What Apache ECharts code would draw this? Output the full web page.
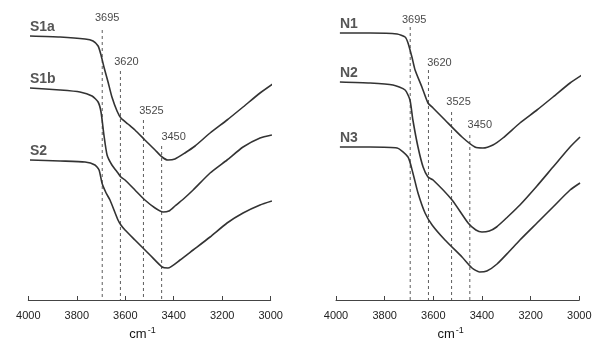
<!DOCTYPE html>
<html>
<head>
<meta charset="utf-8">
<script src="https://cdn.jsdelivr.net/npm/echarts@6/dist/echarts.min.js"></script>
<style>
  html, body { margin: 0; padding: 0; background: #ffffff; }
  #chart { width: 598px; height: 346px; }
</style>
</head>
<body>
<div id="chart"></div>
<script>
// FTIR spectra, OH-stretching region (stacked transmittance, arbitrary units)

// band positions marked with dashed guides, cm-1
const peaks = [3695, 3620, 3525, 3450];

// left panel: [wavenumber, transmittance]
const S1a = [
  [3993, 132], [3869, 131.5], [3766, 130.5], [3733, 129.5], [3712, 127], [3700, 122.5],
  [3688, 116.5], [3671, 109], [3655, 101.5], [3634, 94.5], [3618, 91], [3589, 88],
  [3560, 85], [3519, 80], [3477, 75], [3448, 71.5], [3424, 70], [3395, 70.5],
  [3354, 73.5], [3312, 77], [3250, 83.5], [3180, 90], [3114, 96.5], [3044, 103.5], [2986, 108.5]
];
const S1b = [
  [3993, 106], [3869, 105], [3787, 104], [3737, 102], [3712, 99], [3700, 94],
  [3688, 82.5], [3675, 72.5], [3655, 67.5], [3630, 63.5], [3618, 61.5], [3601, 60],
  [3560, 55], [3519, 50], [3477, 46], [3444, 44], [3420, 44.5], [3395, 47],
  [3360, 50.5], [3320, 55], [3250, 63.5], [3180, 70], [3114, 76.5], [3044, 81], [2995, 82.5]
];
const S2 = [
  [3993, 70], [3869, 69.5], [3766, 69], [3725, 67.5], [3708, 65], [3696, 58.5],
  [3679, 53.5], [3663, 50], [3630, 40], [3618, 37.5], [3601, 35], [3560, 30],
  [3498, 22.5], [3448, 16.5], [3424, 16], [3374, 20], [3320, 25], [3250, 31.5],
  [3180, 38.5], [3114, 43.5], [3044, 47.5], [2995, 49.5]
];

// right panel: [wavenumber, transmittance]
const N1 = [
  [3984, 133.5], [3860, 133.5], [3749, 133], [3716, 131.5], [3704, 128.5], [3688, 121.5],
  [3675, 115], [3647, 106.5], [3622, 98.5], [3601, 96], [3552, 90], [3482, 81.5],
  [3429, 76.5], [3396, 76], [3355, 77.5], [3314, 81], [3244, 88.5], [3174, 95],
  [3108, 101.5], [3038, 108.5], [2989, 112.5]
];
const N2 = [
  [3984, 109], [3860, 108.5], [3766, 107.5], [3716, 105], [3696, 100], [3684, 90],
  [3663, 76.5], [3642, 66.5], [3622, 61.5], [3601, 60], [3523, 50], [3457, 38.5],
  [3425, 35], [3400, 34], [3370, 34.5], [3340, 36.5], [3295, 41.5], [3244, 47.5],
  [3174, 57], [3108, 66.5], [3038, 76.5], [2997, 81.5]
];
const N3 = [
  [3984, 76.5], [3860, 76.5], [3749, 76], [3704, 71.5], [3684, 63.5], [3663, 53.5],
  [3634, 43.5], [3605, 37.5], [3552, 30], [3482, 21.5], [3441, 16], [3410, 14],
  [3380, 14.5], [3338, 18], [3290, 24], [3244, 30], [3174, 38.5], [3108, 46.5],
  [3038, 55], [2997, 58.5]
];

const leftNames = ['S1a', 'S1b', 'S2'];
const rightNames = ['N1', 'N2', 'N3'];

// annotation layout per panel: top of each dashed guide, height of its label, label shift
const guideLayout = [
  { top: [135, 114.5, 90, 77], labelY: [141, 119, 94.5, 81.5], dx: [5, 6, 8, 12] },
  { top: [136.5, 115, 94, 82.5], labelY: [140, 118.5, 99, 87.5], dx: [4, 11, 7, 10] }
];

const FONT = 'Liberation Sans, Arial, Helvetica, sans-serif';
const INK = '#151515';

function buildPanel(idx, curves, names) {
  const out = [];
  const lay = guideLayout[idx];
  peaks.forEach((p, i) => {
    out.push({
      type: 'line', xAxisIndex: idx, yAxisIndex: idx, silent: true, z: 1,
      symbol: 'none', clip: false,
      data: [[p, lay.top[i]], [p, 0]],
      lineStyle: { color: '#5e5e5e', width: 1, type: [3, 3] }
    });
  });
  out.push({
    type: 'scatter', xAxisIndex: idx, yAxisIndex: idx, silent: true, z: 3,
    symbolSize: 0, clip: false,
    data: peaks.map((p, i) => ({ value: [p, lay.labelY[i]], label: { offset: [lay.dx[i], 0] } })),
    label: {
      show: true, position: 'inside', fontSize: 11, fontFamily: FONT, color: INK,
      formatter: (d) => String(d.value[0])
    }
  });
  curves.forEach((c, k) => {
    out.push({
      type: 'line', name: names[k], xAxisIndex: idx, yAxisIndex: idx, z: 2,
      data: c, smooth: 0.2, symbol: 'none', clip: false,
      lineStyle: { color: '#333333', width: 1.6 }
    });
    out.push({
      type: 'scatter', xAxisIndex: idx, yAxisIndex: idx, silent: true, z: 3,
      symbolSize: 0, clip: false, data: [c[0]],
      label: {
        show: true, position: 'top', align: 'left', distance: 2,
        fontSize: 14, fontWeight: 'bold', fontFamily: FONT, color: '#2a2a2a',
        formatter: names[k]
      }
    });
  });
  return out;
}

function xAxisFor(idx) {
  return {
    gridIndex: idx, type: 'value', min: 3000, max: 4000, interval: 200, inverse: true,
    axisLine: { lineStyle: { color: '#444', width: 1 } },
    axisTick: { inside: true, length: 4, lineStyle: { color: '#444' } },
    splitLine: { show: false },
    axisLabel: {
      fontSize: 11, fontFamily: FONT, color: '#222', margin: 10,
      formatter: (v) => String(v)
    },
    name: 'cm{s|-1}', nameLocation: 'middle', nameGap: 26,
    nameTextStyle: {
      fontSize: 13, fontFamily: FONT, color: INK, padding: [0, 14, 0, 0],
      rich: { s: { fontSize: 9, fontFamily: FONT, color: INK, padding: [0, 0, 8, 1] } }
    }
  };
}

const chart = echarts.init(document.getElementById('chart'), null, { renderer: 'canvas' });
chart.setOption({
  animation: false,
  backgroundColor: '#ffffff',
  grid: [
    { left: 28.3, top: 0, width: 242.4, height: 300 },
    { left: 336, top: 0, width: 243.3, height: 300 }
  ],
  xAxis: [xAxisFor(0), xAxisFor(1)],
  yAxis: [
    { gridIndex: 0, type: 'value', min: 0, max: 150, show: false },
    { gridIndex: 1, type: 'value', min: 0, max: 150, show: false }
  ],
  series: [].concat(
    buildPanel(0, [S1a, S1b, S2], leftNames),
    buildPanel(1, [N1, N2, N3], rightNames)
  )
});
</script>
</body>
</html>
